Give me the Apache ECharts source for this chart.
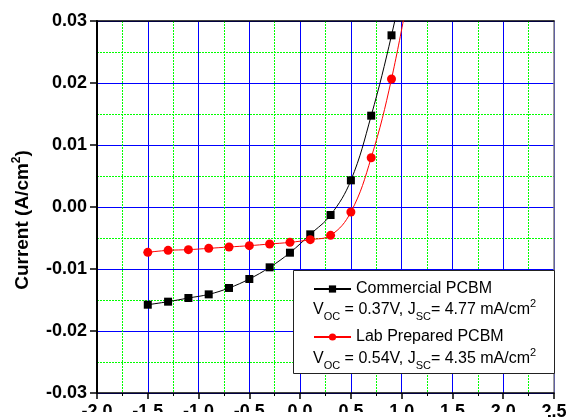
<!DOCTYPE html>
<html><head><meta charset="utf-8">
<script src="https://cdn.jsdelivr.net/npm/echarts@6/dist/echarts.min.js"></script>
<style>html,body{margin:0;padding:0;background:#fff}#c{width:569px;height:419px}</style>
</head><body><div id="c"></div>
<script>
const voltage = [-1.5,-1.3,-1.1,-0.9,-0.7,-0.5,-0.3,-0.1,0.1,0.3,0.5,0.7,0.9,1.1];
const commercial = [-0.01576,-0.01527,-0.01468,-0.01409,-0.01306,-0.01161,-0.00973,-0.00737,-0.00441,-0.00129,0.0043,0.01473,0.02769,0.043];
const labPrepared = [-0.00731,-0.00699,-0.00688,-0.00667,-0.00645,-0.00624,-0.00597,-0.0057,-0.00527,-0.00457,-0.00081,0.00795,0.02065,0.0375];
const seriesNames = ['Commercial PCBM','Lab Prepared PCBM'];
const seriesNotes = ['V{sub|OC} = 0.37V, J{sub|SC}= 4.77 mA/cm{sup|2}','V{sub|OC} = 0.54V, J{sub|SC}= 4.35 mA/cm{sup|2}'];
const xMin = -2, xMax = 2.5, xStep = 0.5;
const yMin = -0.03, yMax = 0.03, yStep = 0.01;
const yTitle = 'Current (A/cm{sup|2})';

const FONT = "'Liberation Sans', Arial, sans-serif";
const chart = echarts.init(document.getElementById('c'), null, {renderer:'canvas'});
const pair = (xs, ys) => xs.map((x,i)=>[x, ys[i]]);
const noteRich = {
  m:{fontSize:16,fontFamily:FONT,color:'#000',lineHeight:24,verticalAlign:'middle'},
  sub:{fontSize:11,fontFamily:FONT,color:'#000',lineHeight:11,verticalAlign:'bottom'},
  sup:{fontSize:11,fontFamily:FONT,color:'#000',lineHeight:16,verticalAlign:'top'}
};
function wrapMain(s){ return s.split(/(\{[^}]*\})/).map(p => p.startsWith('{') ? p : (p ? '{m|'+p+'}' : '')).join(''); }

const gridLeft = 97, gridTop = 21, gridW = 457, gridH = 372;
const majorGrid = {show:true, lineStyle:{color:'#0000ff', width:1, type:'solid'}};
const minorGrid = {show:true, lineStyle:{color:'#00ff00', width:1, type:[2,1]}};

chart.setOption({
  animation:false,
  backgroundColor:'#fff',
  grid:{left:gridLeft, top:gridTop, width:gridW, height:gridH, containLabel:false, outerBoundsMode:'none'},
  xAxis:[{
    type:'value', min:xMin, max:xMax, interval:xStep, position:'bottom',
    axisLine:{show:true, onZero:false, lineStyle:{color:'#000', width:1.5}},
    axisTick:{show:true, length:6, lineStyle:{color:'#000', width:1.5}},
    minorTick:{show:true, splitNumber:2, length:3, lineStyle:{color:'#000', width:1}},
    axisLabel:{fontSize:18, fontWeight:'bold', fontFamily:FONT, color:'#000', margin:10, formatter:v=>v.toFixed(1), showMinLabel:true, showMaxLabel:true},
    splitLine:majorGrid, minorSplitLine:minorGrid
  },{
    type:'value', min:xMin, max:xMax, interval:xStep, position:'top',
    axisLine:{show:true, onZero:false, lineStyle:{color:'#000', width:1.5}},
    axisTick:{show:false}, axisLabel:{show:false}, splitLine:{show:false}
  }],
  yAxis:[{
    type:'value', min:yMin, max:yMax, interval:yStep, position:'left',
    axisLine:{show:true, onZero:false, lineStyle:{color:'#000', width:2}},
    axisTick:{show:true, length:7, lineStyle:{color:'#000', width:1.5}},
    axisLabel:{fontSize:18, fontWeight:'bold', fontFamily:FONT, color:'#000', margin:10, formatter:v=>(Math.abs(v)<1e-9?0:v).toFixed(2)},
    splitLine:majorGrid, minorTick:{show:false, splitNumber:2}, minorSplitLine:minorGrid
  },{
    type:'value', min:yMin, max:yMax, interval:yStep, position:'right',
    axisLine:{show:true, onZero:false, lineStyle:{color:'#808080', width:1.5}},
    axisTick:{show:false}, axisLabel:{show:false}, splitLine:{show:false}
  }],
  legend:{
    orient:'vertical', left:313, top:281, itemWidth:37, itemHeight:9, itemGap:32,
    z:20, padding:0,
    textStyle:{fontSize:16, fontFamily:FONT, color:'#000', lineHeight:16},
    data:seriesNames
  },
  series:[{
    name:seriesNames[0], type:'line', data:pair(voltage, commercial),
    symbol:'rect', symbolSize:8, smooth:0.4, z:3,
    itemStyle:{color:'#000'}, lineStyle:{color:'#000', width:1}
  },{
    name:seriesNames[1], type:'line', data:pair(voltage, labPrepared),
    symbol:'circle', symbolSize:9, smooth:0.4, z:4,
    itemStyle:{color:'#ff0000'}, lineStyle:{color:'#ff0000', width:1}
  }],
  graphic:[
    {type:'rect', z:10, shape:{x:293.5, y:270.5, width:261, height:103}, style:{fill:'#fff', stroke:'#222', lineWidth:1}},
    {type:'text', z:20, x:313, y:310, style:{text:wrapMain(seriesNotes[0]), rich:noteRich, verticalAlign:'middle', align:'left'}},
    {type:'text', z:20, x:313, y:359, style:{text:wrapMain(seriesNotes[1]), rich:noteRich, verticalAlign:'middle', align:'left'}},
    {type:'text', z:20, x:23, y:220, rotation:Math.PI/2, style:{
      text:wrapMain(yTitle), align:'center', verticalAlign:'middle',
      rich:{m:{fontSize:19,fontWeight:'bold',fontFamily:FONT,color:'#000',lineHeight:24,verticalAlign:'middle'},
            sup:{fontSize:12,fontWeight:'bold',fontFamily:FONT,color:'#000',lineHeight:14,verticalAlign:'top'}}}},
    {type:'rect', z:100, shape:{x:0, y:412, width:548, height:7}, style:{fill:'#fff'}}
  ]
});
</script></body></html>
